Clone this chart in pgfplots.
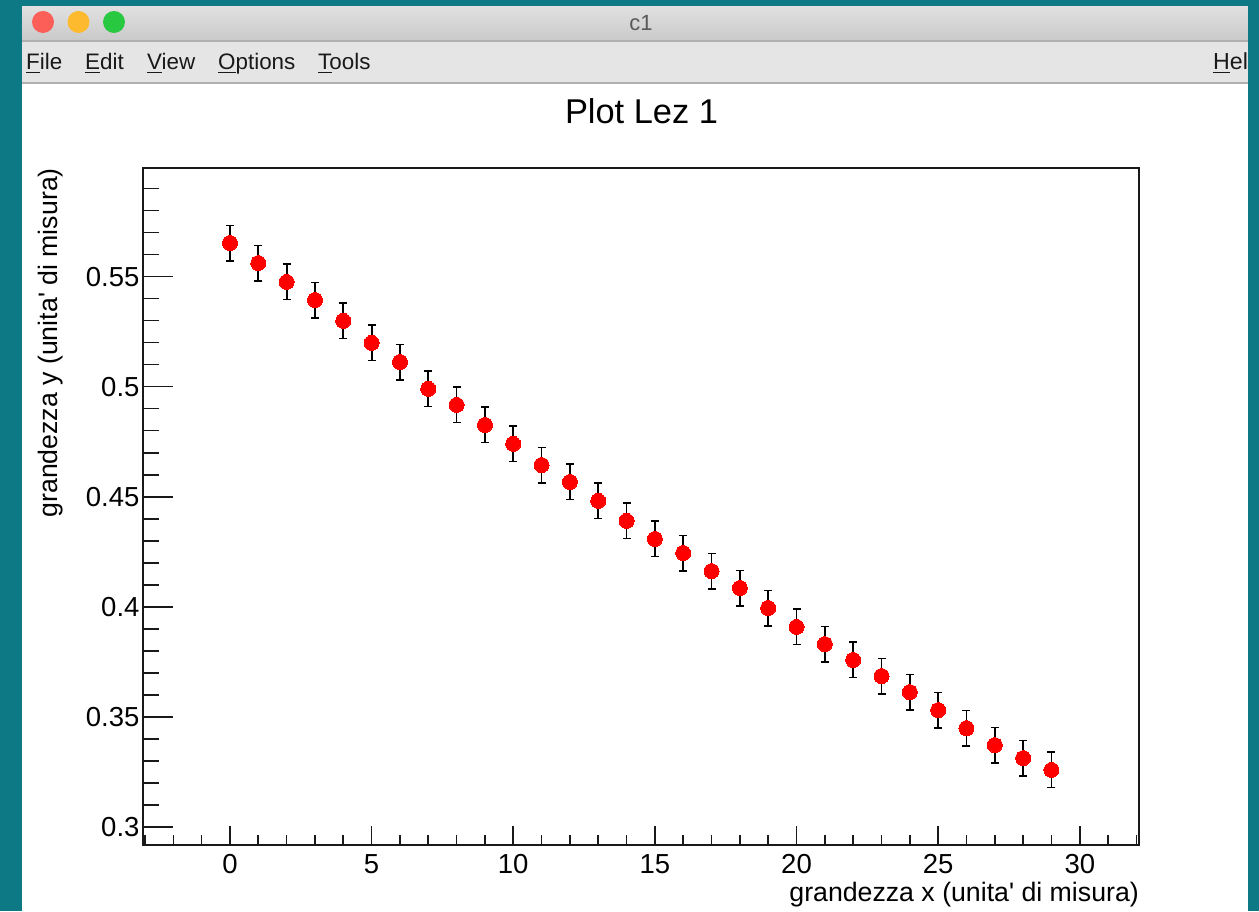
\documentclass[border=0pt]{standalone}
\usepackage{fontspec}
\setmainfont{Liberation Sans}
\newfontfamily\helv{Liberation Sans}
\usepackage{pgfplots}
\pgfplotsset{compat=1.18}
\definecolor{teal0}{HTML}{0D7985}
\definecolor{barT}{HTML}{E0E0E0}
\definecolor{barB}{HTML}{C9C9C9}
\definecolor{menuG}{HTML}{E5E5E5}
\definecolor{lineG}{HTML}{B0B0B0}
\definecolor{redL}{HTML}{FC5F57}
\definecolor{yelL}{HTML}{FDBA2E}
\definecolor{grnL}{HTML}{28C840}
\newcommand\fs[1]{\helv\fontsize{#1}{#1}\selectfont}
\newsavebox\ulbox
\newcommand\ul[1]{\sbox\ulbox{#1}\rlap{\rule[-3pt]{\wd\ulbox}{1.4pt}}#1}
\begin{document}
\begin{tikzpicture}[x=1pt,y=1pt]
\path[use as bounding box] (0,0) rectangle (1259,911);
\fill[teal0] (0,0) rectangle (1259,911);
\fill[white] (22,0) rectangle (1248,904);
\shade[top color=barT,bottom color=barB] (22,870) rectangle (1248,904);
\fill[lineG] (22,869) rectangle (1248,870.5);
\fill[menuG] (22,828) rectangle (1248,869);
\fill[lineG] (22,827) rectangle (1248,828.5);
\fill[redL] (43,889) circle (11);
\fill[yelL] (78.5,889) circle (11);
\fill[grnL] (114,889) circle (11);
\node[text=black!65,inner sep=0pt] at (641,888) {\fs{22}c1};
\node[anchor=base west,inner sep=0pt,text=black!90] at (26,841) {\fs{22.4}\ul{F}ile};
\node[anchor=base west,inner sep=0pt,text=black!90] at (85,841) {\fs{22.4}\ul{E}dit};
\node[anchor=base west,inner sep=0pt,text=black!90] at (147,841) {\fs{22.4}\ul{V}iew};
\node[anchor=base west,inner sep=0pt,text=black!90] at (218,841) {\fs{22.4}\ul{O}ptions};
\node[anchor=base west,inner sep=0pt,text=black!90] at (318,841) {\fs{22.4}\ul{T}ools};
\node[anchor=base west,inner sep=0pt,text=black!90] at (1213,841) {\fs{23.2}\ul{H}elp};
\begin{axis}[
  at={(143pt,66pt)}, anchor=south west,
  scale only axis, width=996pt, height=677pt,
  xmin=-3.07, xmax=32.09, ymin=0.2917, ymax=0.5994,
  axis line style={line width=1.3pt,black!90},
  tick align=inside, xtick pos=bottom, ytick=\empty,
  major tick length=19pt, minor tick length=10pt,
  every tick/.append style={line width=1.6pt,black!90},
  major tick style={line width=1.6pt,black!90},
  minor tick style={line width=1.6pt,black!90},
  xtick={0,5,10,15,20,25,30},
  xticklabels={0,5,10,15,20,25,30},
  minor xtick={-3,-2,-1,1,2,3,4,6,7,8,9,11,12,13,14,16,17,18,19,21,22,23,24,26,27,28,29,31,32},
  xticklabel style={font=\fs{27.5}, text=black, yshift=-6pt},
  xlabel={grandezza x (unita' di misura)},
  xlabel style={font=\fs{26.7}, text=black, at={(rel axis cs:1,0)}, anchor=north east, inner sep=0pt, yshift=-37pt},
  title={Plot Lez 1},
  title style={font=\fs{34.4}, text=black, at={(rel axis cs:0.5005,1)}, anchor=base, yshift=38pt},
]
\end{axis}
\begin{axis}[
  at={(143pt,66pt)}, anchor=south west,
  scale only axis, width=996pt, height=677pt,
  xmin=-3.07, xmax=32.09, ymin=0.2917, ymax=0.5994,
  axis line style={line width=1.3pt,black!90},
  tick align=inside, ytick pos=left, xtick=\empty,
  major tick length=30pt, minor tick length=16pt,
  every tick/.append style={line width=1.6pt,black!90},
  major tick style={line width=1.6pt,black!90},
  minor tick style={line width=1.6pt,black!90},
  ytick={0.3,0.35,0.4,0.45,0.5,0.55},
  yticklabels={0.3,0.35,0.4,0.45,0.5,0.55},
  minor ytick={0.31,0.32,0.33,0.34,0.36,0.37,0.38,0.39,0.41,0.42,0.43,0.44,0.46,0.47,0.48,0.49,0.51,0.52,0.53,0.54,0.56,0.57,0.58,0.59},
  yticklabel style={font=\fs{27.5}, text=black},
  ylabel={grandezza y (unita' di misura)},
  ylabel style={font=\fs{26.7}, text=black, at={(axis description cs:-0.08,1)}, anchor=south east, inner sep=0pt},
  clip=false,
]
\addplot[red, only marks, mark=*, mark size=7.5pt, mark options={fill=red,draw=red,line width=0pt},
  error bars/.cd, y dir=both, y explicit,
  error bar style={line width=1.8pt,black},
  error mark options={rotate=90,mark size=4pt,line width=1.8pt,black}]
table[x=x,y=y,y error=e] {
x y e
0 0.5653 0.0080
1 0.5562 0.0080
2 0.5476 0.0080
3 0.5394 0.0080
4 0.5299 0.0080
5 0.5199 0.0080
6 0.5112 0.0080
7 0.4990 0.0080
8 0.4917 0.0080
9 0.4826 0.0080
10 0.4740 0.0080
11 0.4644 0.0080
12 0.4567 0.0080
13 0.4481 0.0080
14 0.4390 0.0080
15 0.4308 0.0080
16 0.4244 0.0080
17 0.4162 0.0080
18 0.4085 0.0080
19 0.3994 0.0080
20 0.3908 0.0080
21 0.3830 0.0080
22 0.3758 0.0080
23 0.3685 0.0080
24 0.3612 0.0080
25 0.3530 0.0080
26 0.3448 0.0080
27 0.3371 0.0080
28 0.3312 0.0080
29 0.3258 0.0080
};
\end{axis}
\fill[teal0] (1248,0) rectangle (1259,911);
\end{tikzpicture}
\end{document}
